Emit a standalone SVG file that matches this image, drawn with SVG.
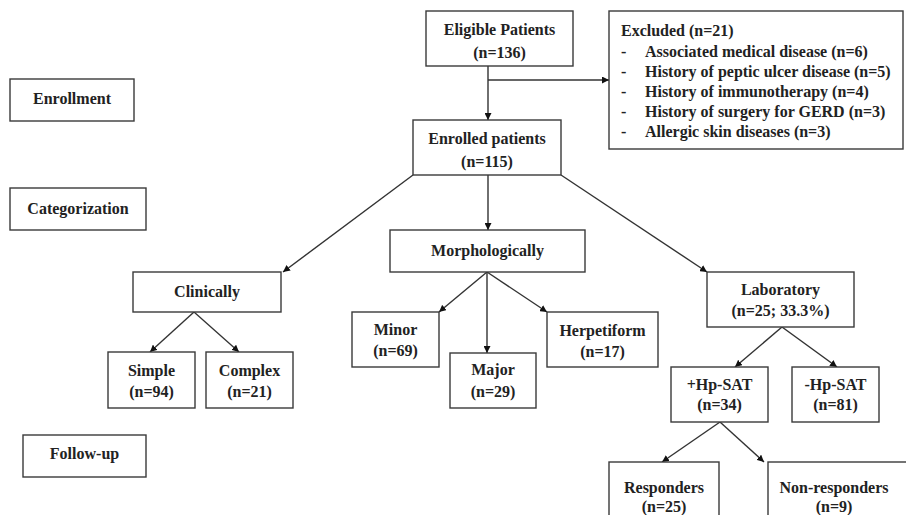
<svg xmlns="http://www.w3.org/2000/svg" width="906" height="515" viewBox="0 0 906 515">
<style>
rect{fill:#fff;stroke:#3a3a3a;stroke-width:1.4}
text{font-family:"Liberation Serif","Times New Roman",serif;font-weight:bold;font-size:16px;fill:#222;text-anchor:middle}
.l{text-anchor:start}
.c line{stroke:#333;stroke-width:1.4;marker-end:url(#a)}
</style>
<defs>
<marker id="a" viewBox="0 0 10 10" refX="10" refY="5" markerWidth="7" markerHeight="7" markerUnits="userSpaceOnUse" orient="auto"><path d="M0,0L10,5L0,10z" fill="#111"/></marker>
</defs>
<rect x="0" y="0" width="906" height="515" style="fill:#fff;stroke:none"/>
<g class="c" id="connectors">
<line x1="488" y1="66" x2="488" y2="120"/>
<line x1="488" y1="80" x2="609" y2="80"/>
<line x1="413" y1="175" x2="283" y2="272"/>
<line x1="488" y1="175" x2="488" y2="230"/>
<line x1="561" y1="175" x2="707" y2="272"/>
<line x1="194" y1="312" x2="150" y2="352"/>
<line x1="194" y1="312" x2="239" y2="352"/>
<line x1="487" y1="272" x2="439" y2="312"/>
<line x1="487" y1="272" x2="487" y2="353"/>
<line x1="487" y1="272" x2="547" y2="312"/>
<line x1="782" y1="327" x2="735" y2="367"/>
<line x1="782" y1="327" x2="837" y2="367"/>
<line x1="720" y1="422" x2="662" y2="462"/>
<line x1="720" y1="422" x2="764" y2="462"/>
</g>
<g id="enrollment"><rect x="10" y="79" width="124" height="42"/><text x="72" y="104">Enrollment</text></g>
<g id="categorization"><rect x="10" y="188" width="136" height="42"/><text x="78" y="214">Categorization</text></g>
<g id="followup"><rect x="23" y="435" width="123" height="42"/><text x="84.5" y="459">Follow-up</text></g>
<g id="eligible"><rect x="426" y="11" width="147" height="55"/><text x="499.5" y="35">Eligible Patients</text><text x="499.5" y="58">(n=136)</text></g>
<g id="excluded"><rect x="609" y="11" width="294" height="138"/>
<text class="l" x="621" y="36">Excluded (n=21)</text>
<text class="l" x="621" y="57">-</text><text class="l" x="645" y="57">Associated medical disease (n=6)</text>
<text class="l" x="621" y="77">-</text><text class="l" x="645" y="77">History of peptic ulcer disease (n=5)</text>
<text class="l" x="621" y="97">-</text><text class="l" x="645" y="97">History of immunotherapy (n=4)</text>
<text class="l" x="621" y="117">-</text><text class="l" x="645" y="117">History of surgery for GERD (n=3)</text>
<text class="l" x="621" y="137">-</text><text class="l" x="645" y="137">Allergic skin diseases (n=3)</text>
</g>
<g id="enrolled"><rect x="413" y="120" width="148" height="55"/><text x="487" y="144">Enrolled patients</text><text x="487" y="167">(n=115)</text></g>
<g id="clinically"><rect x="133" y="272" width="148" height="40"/><text x="207" y="297">Clinically</text></g>
<g id="morphologically"><rect x="390" y="230" width="195" height="42"/><text x="487.5" y="256">Morphologically</text></g>
<g id="laboratory"><rect x="707" y="272" width="147" height="55"/><text x="780.5" y="295">Laboratory</text><text x="780.5" y="316">(n=25; 33.3%)</text></g>
<g id="simple"><rect x="108" y="352" width="87" height="56"/><text x="151.5" y="376">Simple</text><text x="151.5" y="397">(n=94)</text></g>
<g id="complex"><rect x="206" y="352" width="87" height="56"/><text x="249.5" y="376">Complex</text><text x="249.5" y="397">(n=21)</text></g>
<g id="minor"><rect x="352" y="312" width="87" height="55"/><text x="395.5" y="335">Minor</text><text x="395.5" y="356">(n=69)</text></g>
<g id="major"><rect x="450" y="353" width="86" height="55"/><text x="493" y="375">Major</text><text x="493" y="397">(n=29)</text></g>
<g id="herpetiform"><rect x="547" y="312" width="111" height="55"/><text x="602.5" y="336">Herpetiform</text><text x="602.5" y="357">(n=17)</text></g>
<g id="hpsat-pos"><rect x="671" y="367" width="97" height="55"/><text x="719.5" y="390">+Hp-SAT</text><text x="719.5" y="410">(n=34)</text></g>
<g id="hpsat-neg"><rect x="792" y="367" width="87" height="55"/><text x="835.5" y="390">-Hp-SAT</text><text x="835.5" y="410">(n=81)</text></g>
<g id="responders"><rect x="609" y="462" width="110" height="60"/><text x="664" y="493">Responders</text><text x="664" y="512">(n=25)</text></g>
<g id="nonresponders"><rect x="768" y="462" width="145" height="60"/><text x="834" y="493">Non-responders</text><text x="834" y="512">(n=9)</text></g>
</svg>
